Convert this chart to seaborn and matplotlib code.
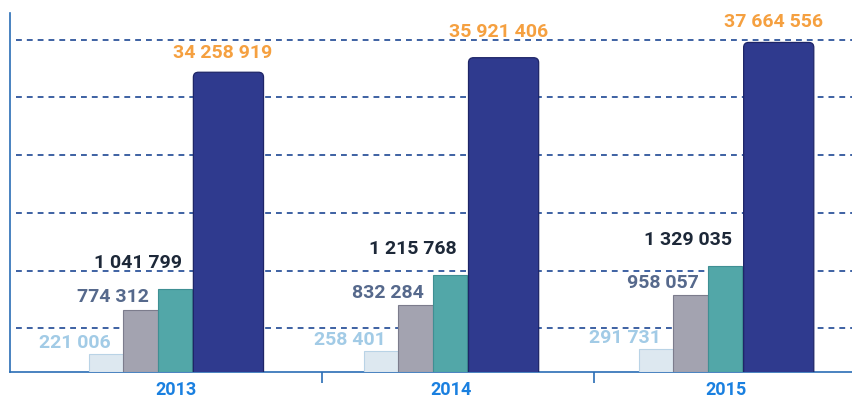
import pandas as pd
import matplotlib
matplotlib.use('Agg')
import matplotlib.pyplot as plt
from matplotlib.patches import FancyBboxPatch
import seaborn as sns

# data
years = ['2013', '2014', '2015']
light_vals = [221006, 258401, 291731]
gray_vals = [774312, 832284, 958057]
teal_vals = [1041799, 1215768, 1329035]
navy_vals = [34258919, 35921406, 37664556]

sns.set_theme(style='white')
plt.rcParams['font.family'] = ['Roboto', 'DejaVu Sans']

def fmt(v):
    return f'{v:,}'.replace(',', ' ')

fig = plt.figure(figsize=(8.53, 4.02), dpi=100)
ax = fig.add_axes([10 / 853, 29 / 402, 843 / 853, 359 / 402])
ax2 = ax.twinx()

navy_top = 41.03e6
small_top = 4.49e6
px_x = 275.0              # px per category unit
px_navy = 359 / navy_top  # px per navy unit

# small series on the main axes, navy on the twin axes
series = [
    (ax, light_vals, '#dde8f0', '#b9d3e6', -0.255, 0.125),
    (ax, gray_vals, '#a3a3b0', '#7c7c8c', -0.13, 0.125),
    (ax, teal_vals, '#52a7a8', '#3f8f93', -0.005, 0.125),
    (ax2, navy_vals, '#2f3a8e', '#1e2567', 0.19, 0.255),
]
for axis, vals, fc, ec, dx, w in series:
    df = pd.DataFrame({'year': years, 'value': vals})
    n0 = len(axis.patches)
    sns.barplot(data=df, x='year', y='value', color=fc, width=w,
                edgecolor=ec, linewidth=0.8, saturation=1, ax=axis, zorder=3)
    for p in axis.patches[n0:]:
        p.set_x(p.get_x() + dx)

# rounded tops for the big bars
r = 5 / px_x
aspect = px_x / px_navy
for p in list(ax2.patches):
    x, w, h = p.get_x(), p.get_width(), p.get_height()
    fb = FancyBboxPatch((x, -r * aspect), w, h + r * aspect,
                        boxstyle=f'round,pad=0,rounding_size={r}',
                        mutation_aspect=aspect, fc=p.get_facecolor(),
                        ec=p.get_edgecolor(), lw=0.9, zorder=3)
    p.remove()
    ax2.add_patch(fb)

ax.set_ylim(0, small_top)
ax2.set_ylim(0, navy_top)
ax.set_xlim(-0.604, 2.46)

# dashed gridlines
grid_levels = [5.0e6, 11.6e6, 18.2e6, 24.8e6, 31.4e6, 38.0e6]
for g in grid_levels:
    ax.plot([6 / 843, 1], [g / navy_top] * 2, transform=ax.transAxes,
            color='#1d4793', lw=1.2, ls=(0, (3.5, 3)), zorder=1)

# labels
navy_dy = [2.3e6, 3.0e6, 2.4e6]
lab_kw = dict(fontsize=14, fontweight='bold')
for i in range(3):
    ax2.text(i + 0.17, navy_vals[i] + navy_dy[i], fmt(navy_vals[i]), ha='center',
             va='center', color='#f5a040', **lab_kw)
    ax.text(i + 0.02, teal_vals[i] + 0.33e6, fmt(teal_vals[i]), ha='right',
            va='center', color='#1d2838', **lab_kw)
    ax.text(i - 0.10, gray_vals[i] + 0.17e6, fmt(gray_vals[i]), ha='right',
            va='center', color='#56698c', **lab_kw)
    ax.text(i - 0.24, light_vals[i] + 0.15e6, fmt(light_vals[i]), ha='right',
            va='center', color='#a2cbe6', **lab_kw)

for a in (ax, ax2):
    a.set_xlabel('')
    a.set_ylabel('')
    a.set_yticks([])
    for s in a.spines.values():
        s.set_visible(False)

for side in ['left', 'bottom']:
    ax.spines[side].set_visible(True)
    ax.spines[side].set_color('#2a6db5')
    ax.spines[side].set_linewidth(1.2)

ax.set_xticks([0, 1, 2])
ax.set_xticklabels(years, fontsize=13, fontweight='bold', color='#1a80e0')
ax.tick_params(axis='x', length=0, pad=6)
ax2.tick_params(axis='x', length=0)
ax.set_xticks([0.53, 1.52], minor=True)
ax.tick_params(axis='x', which='minor', length=8, width=1.2,
               color='#2a6db5', direction='out', bottom=True)

fig.savefig('out.png', dpi=100)
